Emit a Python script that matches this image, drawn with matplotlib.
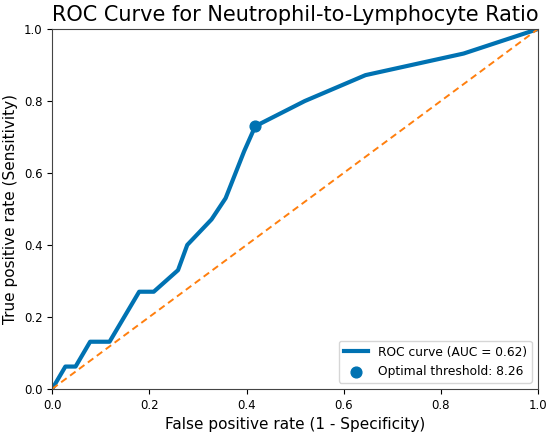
import matplotlib.pyplot as plt
import numpy as np

# ROC curve points
fpr = [0.0, 0.027, 0.048, 0.078, 0.118, 0.179, 0.209, 0.259, 0.278,
       0.328, 0.357, 0.395, 0.418, 0.52, 0.645, 0.847, 1.0]
tpr = [0.0, 0.062, 0.062, 0.131, 0.131, 0.27, 0.27, 0.33, 0.40,
       0.471, 0.53, 0.66, 0.73, 0.80, 0.872, 0.932, 1.0]
auc_value = 0.62

opt_fpr = [0.418]
opt_tpr = [0.73]
opt_threshold = 8.26

chance = [0.0, 1.0]

fig, ax = plt.subplots(figsize=(5.5, 4.34), dpi=100)

ax.plot(fpr, tpr, color="#0072B2", lw=3,
        label=f"ROC curve (AUC = {auc_value:.2f})")
ax.plot(chance, chance, color="#ff7f0e", lw=1.4, linestyle=(0, (3.5, 2.2)))
ax.scatter(opt_fpr, opt_tpr, color="#0072B2", s=60, zorder=3,
           label=f"Optimal threshold: {opt_threshold:.2f}")

ax.set_xlim(0, 1)
ax.set_ylim(0, 1)
ax.set_xlabel("False positive rate (1 - Specificity)", fontsize=11)
ax.set_ylabel("True positive rate (Sensitivity)", fontsize=11)
ax.set_title("ROC Curve for Neutrophil-to-Lymphocyte Ratio", fontsize=15)
ax.tick_params(labelsize=8.5)
for spine in ax.spines.values():
    spine.set_color("#444444")
ax.legend(loc="lower right", fontsize=8.8)

fig.subplots_adjust(left=0.095, right=0.978, bottom=0.104, top=0.933)
fig.savefig("out.png", dpi=100)
